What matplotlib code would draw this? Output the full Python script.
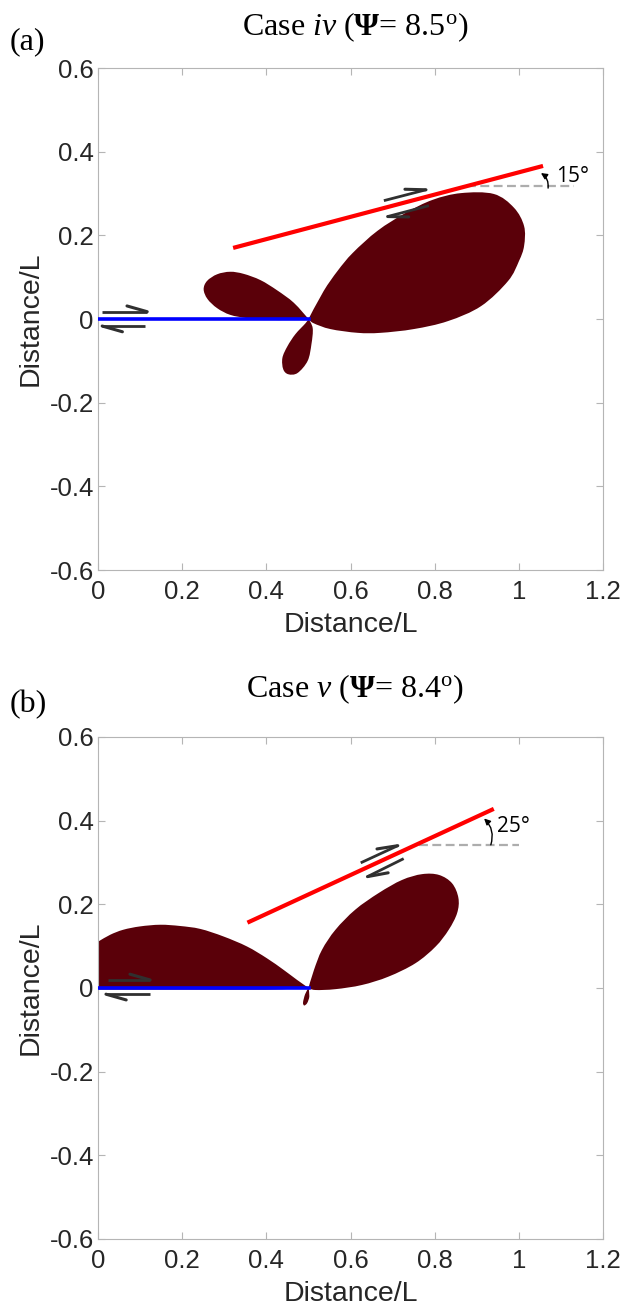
"""Two-panel lobe plot: case iv and case v, fault traces and slip sense."""
import numpy as np
import matplotlib
matplotlib.use("Agg")
import matplotlib.pyplot as plt
from matplotlib.path import Path
from matplotlib.patches import PathPatch

plt.rcParams["font.family"] = ["Liberation Sans", "DejaVu Sans"]
plt.rcParams["mathtext.fontset"] = "custom"
plt.rcParams["mathtext.rm"] = "Liberation Serif"
plt.rcParams["mathtext.it"] = "Liberation Serif:italic"
plt.rcParams["mathtext.bf"] = "Liberation Serif:bold"

# ---- panel (a): case iv ----  (outline points, first point = lobe apex)
a_big_x = [0.5, 0.536, 0.569, 0.605, 0.664, 0.731, 0.795, 0.862, 0.940, 0.988, 1.012,
           1.012, 1.0, 0.974, 0.910, 0.831, 0.750, 0.671, 0.617, 0.552, 0.512]
a_big_y = [0.0, 0.067, 0.115, 0.158, 0.211, 0.254, 0.285, 0.301, 0.299, 0.266, 0.222,
           0.175, 0.139, 0.091, 0.031, -0.005, -0.024, -0.033, -0.033, -0.024, -0.010]
a_left_x = [0.5, 0.465, 0.425, 0.386, 0.346, 0.314, 0.283, 0.259, 0.251, 0.260, 0.283,
            0.314, 0.355, 0.402, 0.457]
a_left_y = [0.0, 0.039, 0.069, 0.093, 0.108, 0.113, 0.107, 0.091, 0.071, 0.048, 0.026,
            0.010, 0.002, -0.002, -0.002]
a_low_x = [0.5, 0.510, 0.507, 0.498, 0.474, 0.452, 0.440, 0.438, 0.450, 0.469, 0.493]
a_low_y = [0.0, -0.022, -0.060, -0.100, -0.129, -0.132, -0.120, -0.093, -0.065, -0.036, -0.010]

a_blue = ([0.0, 0.5], [0.0, 0.0])
a_red = ([0.321, 1.057], [0.170, 0.366])
a_dash = ([0.877, 1.131], [0.318, 0.318])
a_arc = ((1.069, 0.313), (1.052, 0.349))
a_angle_label = (1.088, 0.340, "15°")
# harpoons: (start, end) -> head at end
a_harpoons = [((0.010, 0.0175), (0.117, 0.0175)),
              ((0.112, -0.0167), (0.010, -0.0167)),
              ((0.679, 0.283), (0.779, 0.309)),
              ((0.786, 0.271), (0.688, 0.245))]

# ---- panel (b): case v ----
b_left_x = [0.5, 0.40, 0.20, 0.0, -0.10, -0.10, -0.06, -0.02, 0.001, 0.029, 0.060, 0.100,
            0.148, 0.195, 0.243, 0.298, 0.354, 0.401, 0.441, 0.473]
b_left_y = [0.0, -0.004, -0.004, -0.004, -0.004, 0.05, 0.080, 0.100, 0.111, 0.127, 0.139,
            0.147, 0.151, 0.148, 0.141, 0.123, 0.099, 0.071, 0.043, 0.019]
b_right_x = [0.5, 0.513, 0.532, 0.564, 0.611, 0.667, 0.722, 0.770, 0.810, 0.841, 0.856,
             0.853, 0.833, 0.802, 0.754, 0.690, 0.627, 0.564, 0.516]
b_right_y = [0.0, 0.043, 0.091, 0.139, 0.187, 0.227, 0.258, 0.272, 0.270, 0.250, 0.215,
             0.179, 0.139, 0.099, 0.059, 0.027, 0.007, -0.003, -0.005]
b_low_x = [0.5, 0.502, 0.497, 0.490, 0.487, 0.492]
b_low_y = [0.0, -0.020, -0.036, -0.042, -0.035, -0.015]

b_blue = ([0.0, 0.5], [0.0, 0.0])
b_red = ([0.355, 0.940], [0.156, 0.428])
b_dash = ([0.762, 1.0], [0.342, 0.342])
b_arc = ((0.933, 0.342), (0.917, 0.405))
b_angle_label = (0.948, 0.385, "25°")
b_harpoons = [((0.024, 0.019), (0.124, 0.019)),
              ((0.124, -0.015), (0.019, -0.015)),
              ((0.624, 0.299), (0.712, 0.340)),
              ((0.726, 0.309), (0.640, 0.266))]

LOBE = "#5a0009"
HARP = "#303030"


def smooth_lobe(xs, ys, corners=(0,)):
    """Closed cubic path through the outline points; corners keep a sharp tip."""
    p = np.column_stack([xs, ys])
    n = len(p)
    verts = [p[0]]
    codes = [Path.MOVETO]
    for i in range(n):
        p0, p1 = p[i - 1], p[i]
        p2, p3 = p[(i + 1) % n], p[(i + 2) % n]
        c1 = p1 if i in corners else p1 + (p2 - p0) / 6
        c2 = p2 if (i + 1) % n in corners else p2 - (p3 - p1) / 6
        verts += [c1, c2, p2]
        codes += [Path.CURVE4] * 3
    return Path(verts, codes)


def draw_harpoon(ax, start, end, barb=0.05, ang=16):
    sx, sy = start
    ex, ey = end
    ax.plot([sx, ex], [sy, ey], color=HARP, lw=2.0, solid_capstyle="butt", zorder=5)
    d = np.array([ex - sx, ey - sy])
    d = d / np.hypot(*d)
    n = np.array([-d[1], d[0]])  # left side of travel
    t = np.radians(ang)
    bx, by = np.array([ex, ey]) - barb * np.cos(t) * d + barb * np.sin(t) * n
    ax.plot([ex, bx], [ey, by], color=HARP, lw=2.2, solid_capstyle="round", zorder=5)


def draw_panel(ax, lobes, blue, red, dash, arc, angle_label, harpoons):
    for lx, ly, corners in lobes:
        ax.add_patch(PathPatch(smooth_lobe(lx, ly, corners), facecolor=LOBE, lw=0, zorder=1))
    ax.plot(*blue, color="#0000ff", lw=2.6, zorder=3)
    ax.plot(*red, color="#ff0000", lw=3.0, solid_capstyle="butt", zorder=4)
    ax.plot(*dash, color="#adadad", lw=1.6, dashes=(4, 2), zorder=2)
    ax.annotate("", xy=arc[1], xytext=arc[0],
                arrowprops=dict(arrowstyle="-|>", color="k", lw=1.0, mutation_scale=9,
                                shrinkA=0, shrinkB=0, connectionstyle="arc3,rad=0.3"),
                zorder=6)
    ax.text(angle_label[0], angle_label[1], angle_label[2], fontsize=15,
            family="Open Sans", va="center", ha="left", zorder=6)
    for s, e in harpoons:
        draw_harpoon(ax, s, e)

    ax.set_xlim(0, 1.2)
    ax.set_ylim(-0.6, 0.6)
    ax.set_xticks(np.arange(0, 1.21, 0.2))
    ax.set_xticklabels(["0", "0.2", "0.4", "0.6", "0.8", "1", "1.2"])
    ax.set_yticks(np.arange(-0.6, 0.61, 0.2))
    ax.set_yticklabels(["-0.6", "-0.4", "-0.2", "0", "0.2", "0.4", "0.6"])
    ax.tick_params(direction="in", length=5, width=0.8, color="#b5b5b5",
                   labelcolor="#262626", labelsize=18.5, top=True, right=True, pad=3)
    ax.tick_params(axis="x", pad=7)
    for sp in ax.spines.values():
        sp.set_color("#b5b5b5")
        sp.set_linewidth(0.8)
    ax.set_xlabel("Distance/L", fontsize=20.5, color="#262626", labelpad=6)
    ax.set_ylabel("Distance/L", fontsize=20.5, color="#262626", labelpad=4)


fig = plt.figure(figsize=(6.2, 13.11), dpi=100)
ax_a = fig.add_axes([0.158, 0.5652, 0.815, 0.3829])
ax_b = fig.add_axes([0.158, 0.0550, 0.815, 0.3829])

draw_panel(ax_a, [(a_big_x, a_big_y, (0,)), (a_left_x, a_left_y, (0,)),
                  (a_low_x, a_low_y, (0,))],
           a_blue, a_red, a_dash, a_arc, a_angle_label, a_harpoons)
draw_panel(ax_b, [(b_left_x, b_left_y, (0, 4, 5)), (b_right_x, b_right_y, (0,)),
                  (b_low_x, b_low_y, (0,))],
           b_blue, b_red, b_dash, b_arc, b_angle_label, b_harpoons)

serif = "Liberation Serif"
fig.text(0.573, 1 - 27 / 1311, r"Case $\mathit{iv}$ ($\mathbf{\Psi}$= 8.5$^{\mathrm{o}}$)",
         ha="center", va="center", fontsize=23, family=serif)
fig.text(0.016, 1 - 42 / 1311, "(a)", ha="left", va="center", fontsize=23, family=serif)
fig.text(0.573, 1 - 689 / 1311, r"Case $\mathit{v}$ ($\mathbf{\Psi}$= 8.4$^{\mathrm{o}}$)",
         ha="center", va="center", fontsize=23, family=serif)
fig.text(0.016, 1 - 705 / 1311, "(b)", ha="left", va="center", fontsize=23, family=serif)

fig.savefig("out.png", dpi=100)
